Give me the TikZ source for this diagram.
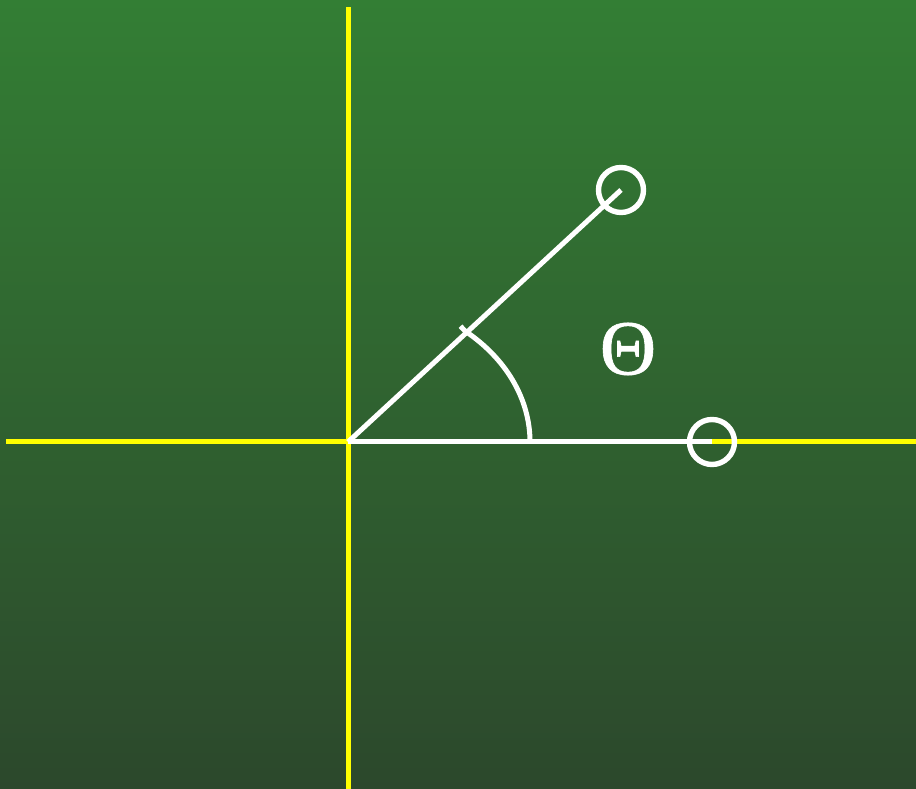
\documentclass[tikz,border=0pt]{standalone}
\usepackage{fontspec}
\setmainfont{Liberation Serif}
\newfontfamily\thetafont[FakeBold=0.8]{Liberation Serif}
\usepackage{xcolor}
\usepackage{tikz}
\usetikzlibrary{calc}
\definecolor{bgtop}{RGB}{51,126,52}
\definecolor{bgbot}{RGB}{44,72,44}
\definecolor{axyel}{RGB}{255,255,0}
\tikzset{
  axis/.style={draw=axyel, line width=5pt},
  ray/.style={draw=white, line width=5pt},
  endpt/.style={
    circle, draw=white, line width=5.4pt, minimum size=45pt, inner sep=0pt
  },
  lbl/.style={text=white, font=\thetafont\fontsize{78}{82}\selectfont, inner sep=0pt}
}
\begin{document}
\begin{tikzpicture}[x=1pt, y=1pt]
  % background
  \shade[top color=bgtop, bottom color=bgbot] (0,0) rectangle (916,789);
  \useasboundingbox (0,0) rectangle (916,789);
  % axes
  \coordinate (O) at (348,347);
  \coordinate (ytop) at (348,782);
  \coordinate (ybot) at (348,0);
  \coordinate (xl) at (6,347);
  \coordinate (xr) at (916,347);
  \draw[axis] (ybot) -- (ytop);
  \draw[axis] (xl) -- (xr);
  % rays and angle
  \node[endpt] (p1) at (621,599) {};
  \node[endpt] (p2) at (712,347) {};
  \draw[ray] (O) -- (p1.center);
  \draw[ray] (O) -- (p2.center);
  \coordinate (tk) at (465,458);
  \draw[ray] ($(tk)+(-4.5,4.8)$) -- (tk)
    arc[start angle=50, end angle=0, x radius=182, y radius=145];
  \node[lbl] (th) at (628,440) {Θ};
\end{tikzpicture}
\end{document}
